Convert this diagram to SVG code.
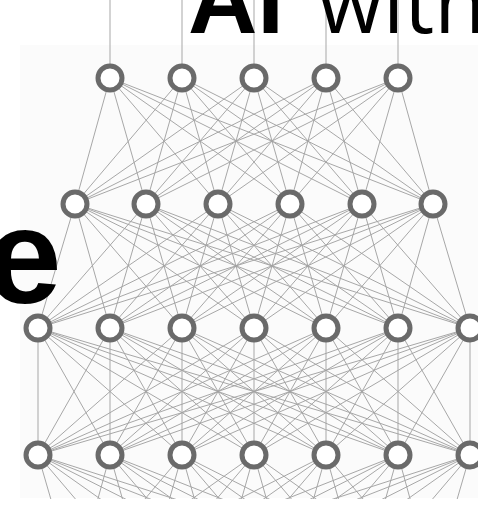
<svg xmlns="http://www.w3.org/2000/svg" width="478" height="505" viewBox="0 0 478 505">
<style>
.bg{fill:#ffffff}
.edge{fill:none;stroke:#a2a2a2;stroke-width:0.95}
.node circle{fill:#ffffff;stroke:#6a6a6a;stroke-width:5}
.t1{font-family:"Liberation Sans",Arial,sans-serif;font-weight:bold;fill:#000}
.t2{font-family:"Open Sans","Liberation Sans",sans-serif;font-weight:400;fill:#000}
</style>
<rect class="bg" x="0" y="0" width="478" height="505"/>
<rect x="20" y="45" width="458" height="453" fill="#fbfbfb"/>
<g id="connectors">
<path class="edge" d="M110 0V78M182 0V78M254 0V78M326 0V78M398 0V78"/>
<path class="edge" d="M110 78L75 204M110 78L146 204M110 78L218 204M110 78L290 204M110 78L362 204M110 78L433 204"/>
<path class="edge" d="M182 78L75 204M182 78L146 204M182 78L218 204M182 78L290 204M182 78L362 204M182 78L433 204"/>
<path class="edge" d="M254 78L75 204M254 78L146 204M254 78L218 204M254 78L290 204M254 78L362 204M254 78L433 204"/>
<path class="edge" d="M326 78L75 204M326 78L146 204M326 78L218 204M326 78L290 204M326 78L362 204M326 78L433 204"/>
<path class="edge" d="M398 78L75 204M398 78L146 204M398 78L218 204M398 78L290 204M398 78L362 204M398 78L433 204"/>
<path class="edge" d="M75 204L38 328M75 204L110 328M75 204L182 328M75 204L254 328M75 204L326 328M75 204L398 328M75 204L470 328"/>
<path class="edge" d="M146 204L38 328M146 204L110 328M146 204L182 328M146 204L254 328M146 204L326 328M146 204L398 328M146 204L470 328"/>
<path class="edge" d="M218 204L38 328M218 204L110 328M218 204L182 328M218 204L254 328M218 204L326 328M218 204L398 328M218 204L470 328"/>
<path class="edge" d="M290 204L38 328M290 204L110 328M290 204L182 328M290 204L254 328M290 204L326 328M290 204L398 328M290 204L470 328"/>
<path class="edge" d="M362 204L38 328M362 204L110 328M362 204L182 328M362 204L254 328M362 204L326 328M362 204L398 328M362 204L470 328"/>
<path class="edge" d="M433 204L38 328M433 204L110 328M433 204L182 328M433 204L254 328M433 204L326 328M433 204L398 328M433 204L470 328"/>
<path class="edge" d="M38 328L38 455M38 328L110 455M38 328L182 455M38 328L254 455M38 328L326 455M38 328L398 455M38 328L470 455"/>
<path class="edge" d="M110 328L38 455M110 328L110 455M110 328L182 455M110 328L254 455M110 328L326 455M110 328L398 455M110 328L470 455"/>
<path class="edge" d="M182 328L38 455M182 328L110 455M182 328L182 455M182 328L254 455M182 328L326 455M182 328L398 455M182 328L470 455"/>
<path class="edge" d="M254 328L38 455M254 328L110 455M254 328L182 455M254 328L254 455M254 328L326 455M254 328L398 455M254 328L470 455"/>
<path class="edge" d="M326 328L38 455M326 328L110 455M326 328L182 455M326 328L254 455M326 328L326 455M326 328L398 455M326 328L470 455"/>
<path class="edge" d="M398 328L38 455M398 328L110 455M398 328L182 455M398 328L254 455M398 328L326 455M398 328L398 455M398 328L470 455"/>
<path class="edge" d="M470 328L38 455M470 328L110 455M470 328L182 455M470 328L254 455M470 328L326 455M470 328L398 455M470 328L470 455"/>
<path class="edge" d="M38 455L75 582M38 455L146 582M38 455L218 582M38 455L290 582M38 455L362 582M38 455L433 582"/>
<path class="edge" d="M110 455L75 582M110 455L146 582M110 455L218 582M110 455L290 582M110 455L362 582M110 455L433 582"/>
<path class="edge" d="M182 455L75 582M182 455L146 582M182 455L218 582M182 455L290 582M182 455L362 582M182 455L433 582"/>
<path class="edge" d="M254 455L75 582M254 455L146 582M254 455L218 582M254 455L290 582M254 455L362 582M254 455L433 582"/>
<path class="edge" d="M326 455L75 582M326 455L146 582M326 455L218 582M326 455L290 582M326 455L362 582M326 455L433 582"/>
<path class="edge" d="M398 455L75 582M398 455L146 582M398 455L218 582M398 455L290 582M398 455L362 582M398 455L433 582"/>
<path class="edge" d="M470 455L75 582M470 455L146 582M470 455L218 582M470 455L290 582M470 455L362 582M470 455L433 582"/>
</g>
<rect x="0" y="499" width="478" height="6" fill="#ffffff"/>
<g id="n1-1" class="node"><circle cx="110" cy="78" r="12"/></g>
<g id="n1-2" class="node"><circle cx="182" cy="78" r="12"/></g>
<g id="n1-3" class="node"><circle cx="254" cy="78" r="12"/></g>
<g id="n1-4" class="node"><circle cx="326" cy="78" r="12"/></g>
<g id="n1-5" class="node"><circle cx="398" cy="78" r="12"/></g>
<g id="n2-1" class="node"><circle cx="75" cy="204" r="12"/></g>
<g id="n2-2" class="node"><circle cx="146" cy="204" r="12"/></g>
<g id="n2-3" class="node"><circle cx="218" cy="204" r="12"/></g>
<g id="n2-4" class="node"><circle cx="290" cy="204" r="12"/></g>
<g id="n2-5" class="node"><circle cx="362" cy="204" r="12"/></g>
<g id="n2-6" class="node"><circle cx="433" cy="204" r="12"/></g>
<g id="n3-1" class="node"><circle cx="38" cy="328" r="12"/></g>
<g id="n3-2" class="node"><circle cx="110" cy="328" r="12"/></g>
<g id="n3-3" class="node"><circle cx="182" cy="328" r="12"/></g>
<g id="n3-4" class="node"><circle cx="254" cy="328" r="12"/></g>
<g id="n3-5" class="node"><circle cx="326" cy="328" r="12"/></g>
<g id="n3-6" class="node"><circle cx="398" cy="328" r="12"/></g>
<g id="n3-7" class="node"><circle cx="470" cy="328" r="12"/></g>
<g id="n4-1" class="node"><circle cx="38" cy="455" r="12"/></g>
<g id="n4-2" class="node"><circle cx="110" cy="455" r="12"/></g>
<g id="n4-3" class="node"><circle cx="182" cy="455" r="12"/></g>
<g id="n4-4" class="node"><circle cx="254" cy="455" r="12"/></g>
<g id="n4-5" class="node"><circle cx="326" cy="455" r="12"/></g>
<g id="n4-6" class="node"><circle cx="398" cy="455" r="12"/></g>
<g id="n4-7" class="node"><circle cx="470" cy="455" r="12"/></g>
<g id="title">
<text class="t1" x="188" y="33" font-size="96">AI</text>
<text class="t2" x="318" y="33" font-size="84">with</text>
</g>
<text class="t1" x="-14" y="303" font-size="136">e</text>
</svg>
